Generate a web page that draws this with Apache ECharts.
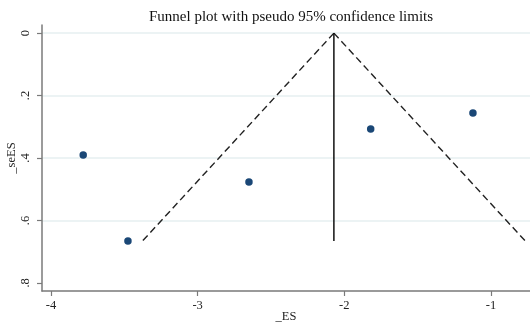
<!DOCTYPE html>
<html>
<head>
<meta charset="utf-8">
<script src="https://cdn.jsdelivr.net/npm/echarts@6/dist/echarts.min.js"></script>
<style>
  html, body { margin: 0; padding: 0; background: #fff; }
  #chart { width: 530px; height: 323px; }
</style>
</head>
<body>
<div id="chart"></div>
<script>
// study estimates
const effectSizes = [-3.78, -3.475, -2.65, -1.82, -1.123];
const stdErrors = [0.39, 0.666, 0.477, 0.307, 0.256];

// pooled estimate and funnel limits
const pooledEs = -2.071;
const funnelSe = [0, 0.666];
const leftLimit = [-2.071, -3.376];
const rightLimit = [-2.071, -0.766];

const xTicks = [-4, -3, -2, -1];
const yTicks = [0, 0.2, 0.4, 0.6, 0.8];
const yGridLines = [0, 0.2, 0.4, 0.6];

const serif = 'Liberation Serif';
const axisGray = '#7a7a7a';

let myChart = echarts.init(document.getElementById('chart'));
myChart.setOption({
    animation: false,
    title: {
        text: 'Funnel plot with pseudo 95% confidence limits',
        left: 144,
        top: 5,
        textStyle: { fontFamily: serif, fontSize: 15, fontWeight: 'normal', color: '#111' }
    },
    grid: { left: 42, right: 0, top: 25, bottom: 32, outerBoundsMode: 'none', containLabel: false },
    xAxis: {
        type: 'value',
        min: -4.061,
        max: -0.734,
        name: '_ES',
        nameLocation: 'middle',
        nameMoveOverlap: false,
        nameGap: 19,
        nameTextStyle: { fontFamily: serif, fontSize: 12.5, color: '#222' },
        splitLine: { show: false },
        axisLine: { onZero: false, lineStyle: { color: axisGray, width: 1.5 } },
        axisTick: { customValues: xTicks, length: 5, lineStyle: { color: axisGray, width: 1.2 } },
        axisLabel: {
            customValues: xTicks,
            margin: 8,
            fontFamily: serif, fontSize: 12.5, color: '#222'
        }
    },
    yAxis: {
        type: 'value',
        inverse: true,
        min: -0.026,
        max: 0.826,
        name: '_seES',
        nameLocation: 'middle',
        nameMoveOverlap: false,
        nameGap: 24,
        nameRotate: 90,
        nameTextStyle: { fontFamily: serif, fontSize: 12.5, color: '#222' },
        splitLine: { show: false },
        axisLine: { onZero: false, lineStyle: { color: axisGray, width: 1.5 } },
        axisTick: { customValues: yTicks, length: 5, lineStyle: { color: axisGray, width: 1.2 } },
        axisLabel: {
            customValues: yTicks,
            rotate: 90,
            margin: 10,
            fontFamily: serif, fontSize: 12.5, color: '#222',
            formatter(val) {
                return val === 0 ? '0' : String(Math.round(val * 10) / 10).replace(/^0/, '');
            }
        }
    },
    series: [{
        type: 'line',
        data: [],
        silent: true,
        z: 0,
        markLine: {
            symbol: 'none',
            silent: true,
            z: 0,
            label: { show: false },
            lineStyle: { color: '#e6eff0', width: 1.5, type: 'solid' },
            data: yGridLines.map(v => ({ yAxis: v }))
        }
    }, {
        type: 'line',
        data: funnelSe.map((s, i) => [leftLimit[i], s]),
        symbol: 'none',
        z: 3,
        lineStyle: { color: '#222', width: 1.4, type: [7, 4] }
    }, {
        type: 'line',
        data: funnelSe.map((s, i) => [rightLimit[i], s]),
        symbol: 'none',
        z: 3,
        lineStyle: { color: '#222', width: 1.4, type: [7, 4] }
    }, {
        type: 'line',
        data: funnelSe.map(s => [pooledEs, s]),
        symbol: 'none',
        z: 3,
        lineStyle: { color: '#111', width: 1.5 }
    }, {
        type: 'scatter',
        data: effectSizes.map((es, i) => [es, stdErrors[i]]),
        symbol: 'circle',
        symbolSize: 7.5,
        z: 4,
        itemStyle: { color: '#1a4776', opacity: 1 }
    }]
});
</script>
</body>
</html>
